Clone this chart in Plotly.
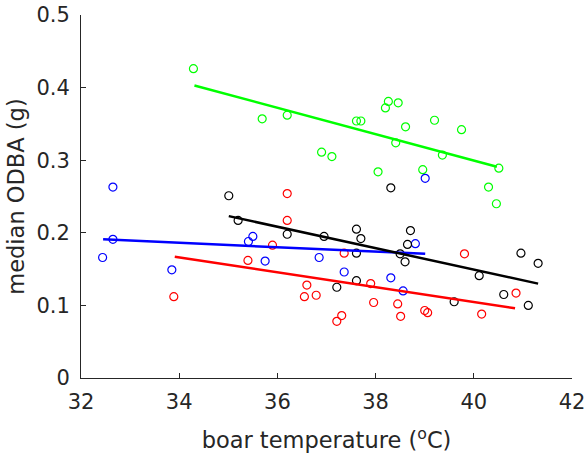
import plotly.graph_objects as go

# ---- data ----
green_x = [34.29, 35.69, 36.20, 36.90, 37.11, 37.61, 37.70, 38.05, 38.20, 38.26,
           38.41, 38.46, 38.61, 38.96, 39.20, 39.36, 39.75, 40.30, 40.46, 40.51]
green_y = [0.426, 0.357, 0.362, 0.311, 0.305, 0.354, 0.354, 0.284, 0.372, 0.381,
           0.324, 0.379, 0.346, 0.287, 0.355, 0.307, 0.342, 0.263, 0.240, 0.289]

blue_x = [32.44, 32.65, 32.65, 33.85, 35.41, 35.50, 35.75, 36.85, 37.36, 38.31,
          38.56, 38.81, 39.01]
blue_y = [0.166, 0.263, 0.191, 0.149, 0.188, 0.195, 0.161, 0.166, 0.146, 0.138,
          0.120, 0.185, 0.275]

red_x = [33.89, 35.40, 35.90, 36.20, 36.20, 36.55, 36.60, 36.79, 37.21, 37.31,
         37.36, 37.90, 37.96, 38.45, 38.51, 39.00, 39.06, 39.81, 40.16, 40.86]
red_y = [0.112, 0.162, 0.183, 0.254, 0.217, 0.112, 0.128, 0.114, 0.078, 0.086,
         0.172, 0.130, 0.104, 0.102, 0.085, 0.093, 0.090, 0.171, 0.088, 0.117]

black_x = [35.01, 35.20, 36.20, 36.95, 37.21, 37.61, 37.61, 37.61, 37.70, 38.31,
           38.50, 38.60, 38.65, 38.71, 39.60, 40.11, 40.61, 40.96, 41.11, 41.31]
black_y = [0.251, 0.217, 0.198, 0.195, 0.125, 0.205, 0.172, 0.134, 0.192, 0.262,
           0.171, 0.160, 0.184, 0.203, 0.105, 0.141, 0.115, 0.172, 0.100, 0.158]

# regression line end points
green_fit_x = [34.31, 40.47]
green_fit_y = [0.403, 0.291]
blue_fit_x = [32.45, 39.01]
blue_fit_y = [0.191, 0.171]
red_fit_x = [33.91, 40.84]
red_fit_y = [0.167, 0.096]
black_fit_x = [35.01, 41.31]
black_fit_y = [0.223, 0.130]

x_ticks = [32, 34, 36, 38, 40, 42]
y_ticks = [0, 0.1, 0.2, 0.3, 0.4, 0.5]
y_tick_labels = ["0", "0.1", "0.2", "0.3", "0.4", "0.5"]

series = [
    (green_x, green_y, green_fit_x, green_fit_y, "#00FF00"),
    (blue_x, blue_y, blue_fit_x, blue_fit_y, "#0000FF"),
    (red_x, red_y, red_fit_x, red_fit_y, "#FF0000"),
    (black_x, black_y, black_fit_x, black_fit_y, "#000000"),
]

fig = go.Figure()
for sx, sy, fx, fy, col in series:
    fig.add_trace(go.Scatter(
        x=sx, y=sy, mode="markers",
        marker=dict(symbol="circle-open", size=8, color=col, line=dict(width=1.2, color=col)),
        showlegend=False, hoverinfo="skip"))
for sx, sy, fx, fy, col in series:
    fig.add_trace(go.Scatter(
        x=fx, y=fy, mode="lines", line=dict(color=col, width=2.5),
        showlegend=False, hoverinfo="skip"))

axcol = "#262626"
font_family = "DejaVu Sans, Liberation Sans, Arial, sans-serif"
fs = 21
fs_title = 22.5

fig.update_layout(
    width=587, height=457,
    margin=dict(l=81, r=15, t=15, b=79),
    paper_bgcolor="white", plot_bgcolor="white",
    font=dict(family=font_family, size=fs, color=axcol),
    xaxis=dict(
        range=[32, 42], tickvals=x_ticks, ticktext=[str(v) for v in x_ticks],
        showgrid=False, zeroline=False, showline=True, linecolor=axcol, linewidth=1,
        ticks="inside", ticklen=5, tickcolor=axcol, mirror=False, automargin=False,
        tickfont=dict(size=fs, color=axcol), ticklabelstandoff=5,
        title=dict(text="boar temperature (<sup>o</sup>C)", font=dict(size=fs_title, color=axcol), standoff=19),
    ),
    yaxis=dict(
        range=[0, 0.5], tickvals=y_ticks, ticktext=y_tick_labels,
        showgrid=False, zeroline=False, showline=True, linecolor=axcol, linewidth=1,
        ticks="inside", ticklen=5, tickcolor=axcol, mirror=False, automargin=False,
        tickfont=dict(size=fs, color=axcol), ticklabelstandoff=6,
        title=dict(text="median ODBA (g)", font=dict(size=fs_title, color=axcol), standoff=5),
    ),
)

fig.write_html("out.html", config={"displayModeBar": False},
               post_script="document.body.style.margin='0px';")
